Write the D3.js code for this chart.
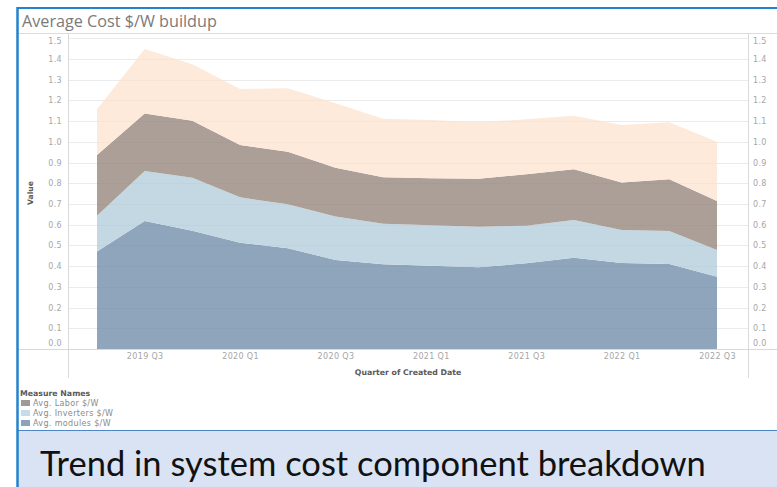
<!DOCTYPE html>
<html>
<head>
<meta charset="utf-8">
<script src="https://cdn.jsdelivr.net/npm/d3@7"></script>
<style>
  body { margin: 0; background: #fff; }
  svg { display: block; }
</style>
</head>
<body>
<svg id="chart" width="777" height="487"></svg>
<script>
// Quarterly average cost components, $/W
const quarters = ["2019 Q2", "2019 Q3", "2019 Q4", "2020 Q1", "2020 Q2", "2020 Q3", "2020 Q4",
                  "2021 Q1", "2021 Q2", "2021 Q3", "2021 Q4", "2022 Q1", "2022 Q2", "2022 Q3"];
const modules   = [0.470, 0.618, 0.571, 0.513, 0.486, 0.430, 0.409, 0.402, 0.394, 0.414, 0.441, 0.415, 0.410, 0.349];
const inverters = [0.173, 0.241, 0.256, 0.219, 0.212, 0.209, 0.195, 0.195, 0.196, 0.181, 0.182, 0.159, 0.159, 0.129];
const labor     = [0.293, 0.278, 0.275, 0.253, 0.254, 0.236, 0.225, 0.227, 0.232, 0.248, 0.244, 0.229, 0.250, 0.236];
const other     = [0.221, 0.311, 0.272, 0.270, 0.306, 0.311, 0.282, 0.281, 0.272, 0.266, 0.259, 0.278, 0.275, 0.286];

const yTicks = [0, 0.1, 0.2, 0.3, 0.4, 0.5, 0.6, 0.7, 0.8, 0.9, 1.0, 1.1, 1.2, 1.3, 1.4, 1.5];
const xTickLabels = ["2019 Q3", "2020 Q1", "2020 Q3", "2021 Q1", "2021 Q3", "2022 Q1", "2022 Q3"];
const legendLabels = ["Avg. Labor $/W", "Avg. Inverters $/W", "Avg. modules $/W"];

const seriesKeys = ["modules", "inverters", "labor", "other"];
const areaColors = { modules: "#8ea5bc", inverters: "#c4d8e3", labor: "#ac9f97", other: "#fdeadb" };
const legendColors = { labor: "#9f9a97", inverters: "#c6dbe9", modules: "#8ca3be" };

const rows = quarters.map((q, i) => ({
  quarter: q, modules: modules[i], inverters: inverters[i], labor: labor[i], other: other[i]
}));

const svg = d3.select("#chart");
const W = 777, H = 487;
const plot = { left: 68, right: 748, top: 34, bottom: 349 };

const x = d3.scalePoint().domain(quarters).range([plot.left + 29, plot.right - 31]);
const y = d3.scaleLinear().domain([0, 1.5]).range([plot.bottom, 38.2]);

// background
svg.append("rect").attr("width", W).attr("height", H).attr("fill", "#fff");

// title
svg.append("text")
  .attr("x", 22).attr("y", 26.5)
  .attr("font-family", "'Open Sans', sans-serif")
  .attr("font-size", 16.2)
  .attr("fill", "#7a7a7a")
  .text("Average Cost $/W buildup");

svg.append("line").attr("x1", 18).attr("x2", W).attr("y1", 33.5).attr("y2", 33.5)
  .attr("stroke", "#dcdcdc").attr("stroke-width", 1);

// gridlines
svg.append("g").selectAll("line").data(yTicks.slice(1)).join("line")
  .attr("x1", plot.left).attr("x2", plot.right)
  .attr("y1", d => Math.round(y(d)) + 0.5).attr("y2", d => Math.round(y(d)) + 0.5)
  .attr("stroke", "#f1f1f1").attr("stroke-width", 1);

// stacked areas
const stack = d3.stack().keys(seriesKeys);
const layers = stack(rows);
const area = d3.area()
  .x(d => x(d.data.quarter))
  .y0(d => y(d[0]))
  .y1(d => y(d[1]));

svg.append("g").selectAll("path").data(layers).join("path")
  .attr("d", area)
  .attr("fill", d => areaColors[d.key]);

// gridlines faintly over the areas
svg.append("g").selectAll("line").data(yTicks.slice(1)).join("line")
  .attr("x1", plot.left).attr("x2", plot.right)
  .attr("y1", d => Math.round(y(d)) + 0.5).attr("y2", d => Math.round(y(d)) + 0.5)
  .attr("stroke", "#000").attr("stroke-opacity", 0.025).attr("stroke-width", 1);

// axis frame lines
const axisStroke = "#d9d9d9";
svg.append("line").attr("x1", plot.left + 0.5).attr("x2", plot.left + 0.5)
  .attr("y1", 34).attr("y2", 378).attr("stroke", axisStroke);
svg.append("line").attr("x1", plot.right + 0.5).attr("x2", plot.right + 0.5)
  .attr("y1", 34).attr("y2", 378).attr("stroke", axisStroke);
svg.append("line").attr("x1", 18).attr("x2", W)
  .attr("y1", plot.bottom + 0.5).attr("y2", plot.bottom + 0.5).attr("stroke", axisStroke);

const tickFont = "'DejaVu Sans', sans-serif";
const fmt = d3.format(".1f");

function styleAxis(g) {
  g.select(".domain").remove();
  g.selectAll("text")
    .attr("font-family", tickFont)
    .attr("font-size", 8)
    .attr("letter-spacing", 0.35)
    .attr("fill", "#a6a6a6");
}

// left value axis
const yLeft = svg.append("g")
  .attr("transform", `translate(${plot.left - 6},0)`)
  .call(d3.axisLeft(y).tickValues(yTicks).tickSize(0).tickPadding(0).tickFormat(fmt))
  .call(styleAxis);
// right value axis
const yRight = svg.append("g")
  .attr("transform", `translate(${plot.right + 5},0)`)
  .call(d3.axisRight(y).tickValues(yTicks).tickSize(0).tickPadding(0).tickFormat(fmt))
  .call(styleAxis);

// keep end labels inside the pane
[yLeft, yRight].forEach(g => {
  g.selectAll(".tick").filter(d => d === 0).select("text").attr("dy", "-0.42em");
  g.selectAll(".tick").filter(d => d === 1.5).select("text").attr("dy", "0.62em");
});

// quarter axis
svg.append("g")
  .attr("transform", `translate(0,${plot.bottom + 4})`)
  .call(d3.axisBottom(x).tickValues(xTickLabels).tickSize(0).tickPadding(0))
  .call(styleAxis);

// axis titles
svg.append("text")
  .attr("x", (plot.left + plot.right) / 2).attr("y", 374.5)
  .attr("text-anchor", "middle")
  .attr("font-family", tickFont).attr("font-size", 7.8).attr("font-weight", "bold")
  .attr("fill", "#595959")
  .text("Quarter of Created Date");

svg.append("text")
  .attr("transform", "translate(33,193) rotate(-90)")
  .attr("text-anchor", "middle")
  .attr("font-family", tickFont).attr("font-size", 7.6).attr("font-weight", "bold")
  .attr("fill", "#595959")
  .text("Value");

// legend
const legend = svg.append("g").attr("transform", "translate(20,0)");
legend.append("text")
  .attr("x", 0).attr("y", 396)
  .attr("font-family", tickFont).attr("font-size", 7.8).attr("font-weight", "bold")
  .attr("fill", "#595959")
  .text("Measure Names");
const legendKeys = ["labor", "inverters", "modules"];
const items = legend.selectAll("g.item").data(legendLabels).join("g")
  .attr("class", "item")
  .attr("transform", (d, i) => `translate(0,${400 + i * 10})`);
items.append("rect").attr("x", 1).attr("y", 0).attr("width", 9).attr("height", 6)
  .attr("fill", (d, i) => legendColors[legendKeys[i]]);
items.append("text").attr("x", 13).attr("y", 5.8)
  .attr("font-family", tickFont).attr("font-size", 8).attr("letter-spacing", 0.35)
  .attr("fill", "#8a8a8a")
  .text(d => d);

// caption panel
svg.append("rect").attr("x", 18).attr("y", 430).attr("width", W - 18).attr("height", H - 430)
  .attr("fill", "#dae3f3");
svg.append("line").attr("x1", 18).attr("x2", W).attr("y1", 430.5).attr("y2", 430.5)
  .attr("stroke", "#4f86c6").attr("stroke-width", 1.2);
svg.append("text")
  .attr("x", 40).attr("y", 476)
  .attr("font-family", "Lato, 'Open Sans', sans-serif")
  .attr("font-size", 34.5)
  .attr("fill", "#111")
  .text("Trend in system cost component breakdown");

// outer blue border
svg.append("line").attr("x1", 17).attr("x2", W).attr("y1", 8).attr("y2", 8)
  .attr("stroke", "#2582cc").attr("stroke-width", 2);
svg.append("line").attr("x1", 17.5).attr("x2", 17.5).attr("y1", 7).attr("y2", H)
  .attr("stroke", "#2582cc").attr("stroke-width", 2.5);
</script>
</body>
</html>
